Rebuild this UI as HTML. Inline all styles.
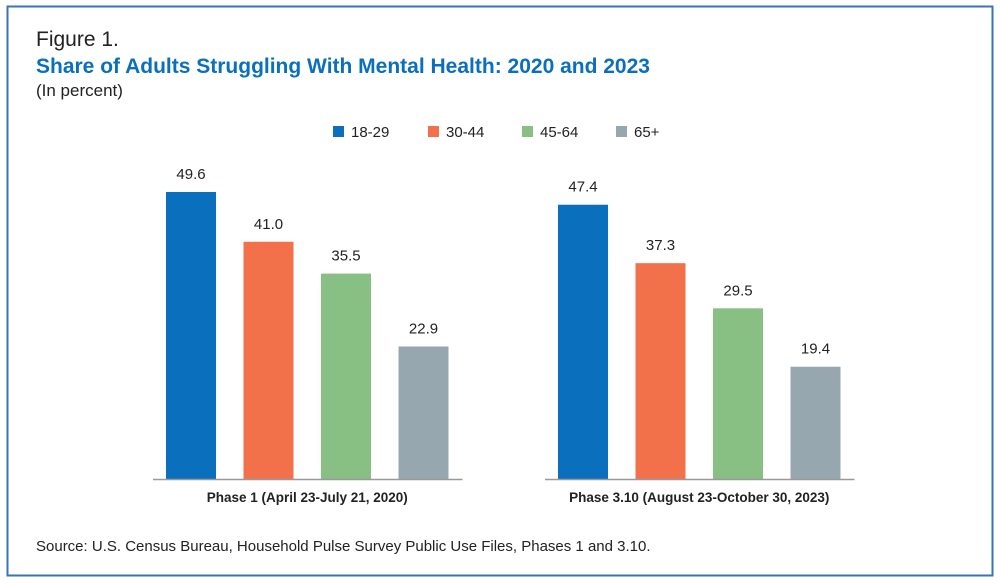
<!DOCTYPE html>
<html><head><meta charset="utf-8"><style>
body{margin:0;background:#fff;}
svg{display:block;font-family:"Liberation Sans",sans-serif;}
</style></head><body>
<svg width="1000" height="583" viewBox="0 0 1000 583">
<rect x="7.5" y="6.5" width="985" height="569" fill="#fff" stroke="#3a73b5" stroke-width="2"/>
<text x="36" y="46" font-size="21" fill="#222">Figure 1.</text>
<text x="36" y="73" font-size="21" font-weight="bold" fill="#0a6fbd">Share of Adults Struggling With Mental Health: 2020 and 2023</text>
<text x="36" y="96" font-size="17" fill="#222">(In percent)</text>
<g id="legend"></g>
<g id="bars"></g>
<text x="36" y="551" font-size="15" fill="#222">Source: U.S. Census Bureau, Household Pulse Survey Public Use Files, Phases 1 and 3.10.</text>
</svg>
<script>
const groups = ["Phase 1 (April 23-July 21, 2020)", "Phase 3.10 (August 23-October 30, 2023)"];
const series = ["18-29", "30-44", "45-64", "65+"];
const values2020 = [49.6, 41.0, 35.5, 22.9];
const values2023 = [47.4, 37.3, 29.5, 19.4];
const colors = ["#0a6fbd", "#f2714a", "#88c083", "#97a7b0"];
const NS = "http://www.w3.org/2000/svg";
function mk(tag, attrs, parent){const e=document.createElementNS(NS,tag);for(const k in attrs)e.setAttribute(k,attrs[k]);parent.appendChild(e);return e;}
const baseY = 479, scale = 287/49.6;
const y = v => baseY - v*scale;
const groupStart = [166, 558], step = 77.5, bw = 50;
const bars = document.getElementById("bars");
const data = [values2020, values2023];
data.forEach((vals, g) => {
  const x0 = groupStart[g];
  vals.forEach((v, i) => {
    const x = x0 + i*step;
    const r = mk("rect", {x:x, y:y(v), width:bw, height:baseY - y(v), fill:colors[i]}, bars);
    
    
    const t = mk("text", {x:x+bw/2, y:y(v)-13, "font-size":15, "text-anchor":"middle", fill:"#222"}, bars);
    t.textContent = v.toFixed(1);
    
    
  });
  const ln = mk("line", {x1:x0-13, x2:x0+3*step+bw+14, y1:baseY+0.5, y2:baseY+0.5, stroke:"#999", "stroke-width":1.5}, bars);
  
  
  const gl = mk("text", {x:x0+(3*step+bw)/2, y:502, "font-size":13.5, "font-weight":"bold", "text-anchor":"middle", fill:"#222"}, bars);
  gl.textContent = groups[g];
  
  
});
const legend = document.getElementById("legend");
const lx = [333, 428, 522, 616];
series.forEach((s, i) => {
  const r = mk("rect", {x:lx[i], y:126, width:11, height:11, fill:colors[i]}, legend);
  
  
  const t = mk("text", {x:lx[i]+18, y:137, "font-size":15, fill:"#222"}, legend);
  t.textContent = s;
  
  
});
</script>
</body></html>
